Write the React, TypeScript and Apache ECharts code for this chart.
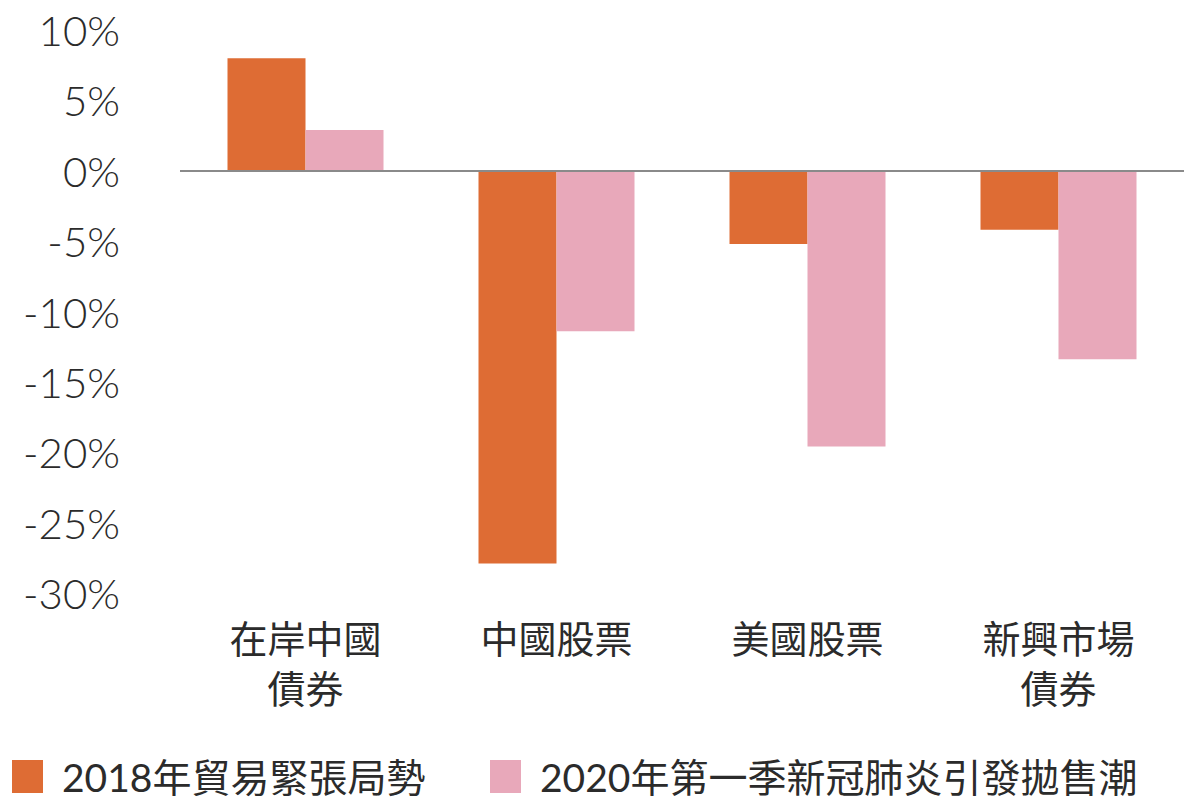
import React, { useEffect, useRef } from "react";
import * as echarts from "echarts";

const categories = ["在岸中國\n債券", "中國股票", "美國股票", "新興市場\n債券"];
const seriesNames = ["2018年貿易緊張局勢", "2020年第一季新冠肺炎引發拋售潮"];
const values2018 = [8.0, -27.9, -5.2, -4.2];
const values2020 = [2.9, -11.4, -19.6, -13.4];
const colors = ["#DE6C34", "#E8A8BA"];

const FONT = "Lato, 'Noto Sans CJK TC', sans-serif";

const legendText = {
  color: "#2b2b2b",
  fontFamily: FONT,
  fontSize: 39,
  lineHeight: 36,
  rich: {
    t: {
      fontSize: 39,
      lineHeight: 36,
      color: "#2b2b2b",
      fontFamily: FONT,
      padding: [0, 0, 0, 14],
    },
  },
};

export default function App() {
  const ref = useRef<HTMLDivElement>(null);
  useEffect(() => {
    if (!ref.current) return;
    const chart = echarts.init(ref.current, null, { renderer: "svg" });
    const legendBase = {
      top: 757,
      icon: "rect",
      itemWidth: 31,
      itemHeight: 33,
      padding: 0,
      formatter: (name: string) => "{t|" + name + "}",
      textStyle: legendText,
    };
    chart.setOption({
      animation: false,
      backgroundColor: "#ffffff",
      grid: { left: 180, right: 16, top: 30, bottom: 205 },
      legend: [
        { ...legendBase, data: [seriesNames[0]], left: 12 },
        { ...legendBase, data: [seriesNames[1]], left: 490 },
      ],
      xAxis: {
        type: "category",
        data: categories,
        axisLine: { show: false },
        axisTick: { show: false },
        axisLabel: {
          fontSize: 38,
          lineHeight: 50,
          color: "#2b2b2b",
          fontFamily: FONT,
          margin: 20,
          interval: 0,
        },
      },
      yAxis: {
        type: "value",
        min: -30,
        max: 10,
        interval: 5,
        axisLine: { show: false },
        axisTick: { show: false },
        splitLine: { show: false },
        axisLabel: {
          formatter: "{value}%",
          fontSize: 42,
          color: "#2b2b2b",
          fontFamily: FONT,
          fontWeight: 300,
          margin: 60,
        },
      },
      series: [
        {
          name: seriesNames[0],
          type: "bar",
          data: values2018,
          barWidth: 78,
          barGap: "0%",
          itemStyle: { color: colors[0] },
          markLine: {
            silent: true,
            symbol: "none",
            label: { show: false },
            lineStyle: { color: "#8a8a8a", width: 2, type: "solid" },
            data: [{ yAxis: 0 }],
          },
          z: 1,
        },
        {
          name: seriesNames[1],
          type: "bar",
          data: values2020,
          barWidth: 78,
          barGap: "0%",
          itemStyle: { color: colors[1] },
          z: 1,
        },
      ],
    });
    return () => chart.dispose();
  }, []);
  return (
    <div
      ref={ref}
      style={{ position: "fixed", left: 0, top: 0, width: 1200, height: 798, background: "#fff" }}
    />
  );
}
